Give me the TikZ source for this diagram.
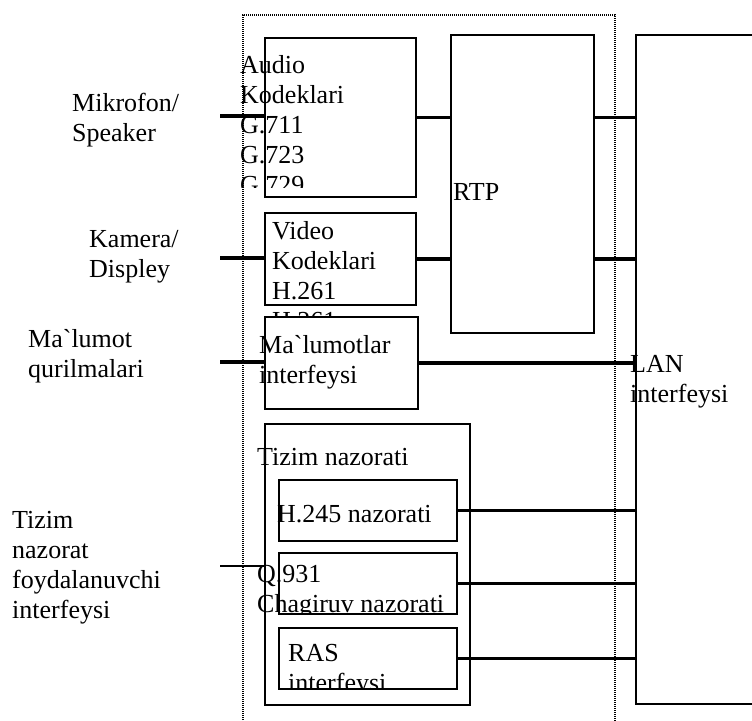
\documentclass[tikz,border=0pt]{standalone}
\usepackage{fontspec}
\setmainfont{Liberation Serif}
\newfontfamily\nomapfont{Liberation Serif}
\newcommand{\grv}{{\nomapfont\char96}}
\begin{document}
\begin{tikzpicture}[x=1pt,y=-1pt,
  box/.style={draw,line width=1.6pt,inner sep=0pt,fill=white},
  conn/.style={line width=3.5pt},
  thinconn/.style={line width=1.2pt},
  txt/.style={anchor=base west,inner sep=0pt,font=\fontsize{26}{30}\selectfont},
  outline/.style={line width=1.3pt,dash pattern=on 1pt off 1pt}]
\useasboundingbox (0,0) rectangle (752,720);
% dotted enclosure
\draw[outline] (243,730) -- (243,15) -- (615,15) -- (615,730);
% boxes
\node[box,minimum width=151pt,minimum height=159pt] (audio) at (340.5,117.5) {};
\node[box,minimum width=151pt,minimum height=92pt] (video) at (340.5,259) {};
\node[box,minimum width=143pt,minimum height=298pt] (rtp) at (522.5,184) {};
\node[box,minimum width=200pt,minimum height=669pt] (lan) at (736,369.5) {};
% audio text (clipped)
\begin{scope}
\clip (225,30) rectangle (430,187);
\node[txt] (audiotxt) at (240,73) {\begin{tabular}[t]{@{}l@{}}Audio\\Kodeklari\\G.711\\G.723\\G.729\end{tabular}};
\end{scope}
% video text (clipped)
\begin{scope}
\clip (225,205) rectangle (430,317);
\node[txt] (videotxt) at (272,239) {\begin{tabular}[t]{@{}l@{}}Video\\Kodeklari\\H.261\\H.261\end{tabular}};
\end{scope}
\node[box,minimum width=153pt,minimum height=92pt] (data) at (341.5,363) {};
\node[txt] (datatxt) at (259,353) {\begin{tabular}[t]{@{}l@{}}Ma\grv lumotlar\\interfeysi\end{tabular}};
\node[txt] (rtptxt) at (453,200) {RTP};
\node[txt] (lantxt) at (630,372) {\begin{tabular}[t]{@{}l@{}}LAN\\interfeysi\end{tabular}};
% system control
\node[box,minimum width=205pt,minimum height=281pt] (sys) at (367.5,564.5) {};
\node[txt] (systxt) at (257,465) {Tizim nazorati};
\node[box,minimum width=178pt,minimum height=61pt] (h245) at (368,510.5) {};
\node[box,minimum width=178pt,minimum height=61pt] (q931) at (368,583.5) {};
\node[box,minimum width=178pt,minimum height=61pt] (ras) at (368,658.5) {};
\node[txt] (h245txt) at (277,522) {H.245 nazorati};
\begin{scope}
\clip (240,550) rectangle (470,613);
\node[txt] (q931txt) at (257,582) {\begin{tabular}[t]{@{}l@{}}Q.931\\Chagiruv nazorati\end{tabular}};
\end{scope}
\begin{scope}
\clip (240,625) rectangle (470,688);
\node[txt] (rastxt) at (288,661) {\begin{tabular}[t]{@{}l@{}}RAS\\interfeysi\end{tabular}};
\end{scope}
% left labels
\node[txt] (mic) at (72,111) {\begin{tabular}[t]{@{}l@{}}Mikrofon/\\Speaker\end{tabular}};
\node[txt] (cam) at (89,247) {\begin{tabular}[t]{@{}l@{}}Kamera/\\Displey\end{tabular}};
\node[txt] (dev) at (28,347) {\begin{tabular}[t]{@{}l@{}}Ma\grv lumot\\qurilmalari\end{tabular}};
\node[txt] (ui) at (12,528) {\begin{tabular}[t]{@{}l@{}}Tizim\\nazorat\\foydalanuvchi\\interfeysi\end{tabular}};
% free ends
\coordinate (micend) at (220,116);
\coordinate (camend) at (220,258);
\coordinate (devend) at (220,362);
\coordinate (uiend) at (220,566);
% connectors
\draw[conn] (micend) -- (micend -| audio.west);
\draw[conn] (camend) -- (camend -| video.west);
\draw[conn] (devend) -- (devend -| data.west);
\draw[thinconn] (uiend) -- (uiend -| sys.west);
\draw[conn] (audio.east) -- (audio.east -| rtp.west);
\draw[conn] (video.east) -- (video.east -| rtp.west);
\draw[conn] (rtp.east |- audio.east) -- (lan.west |- audio.east);
\draw[conn] (rtp.east |- video.east) -- (lan.west |- video.east);
\draw[conn] (data.east) -- (data.east -| lan.west);
\draw[conn] (h245.east) -- (h245.east -| lan.west);
\draw[conn] (q931.east) -- (q931.east -| lan.west);
\draw[conn] (ras.east) -- (ras.east -| lan.west);
\end{tikzpicture}
\end{document}
